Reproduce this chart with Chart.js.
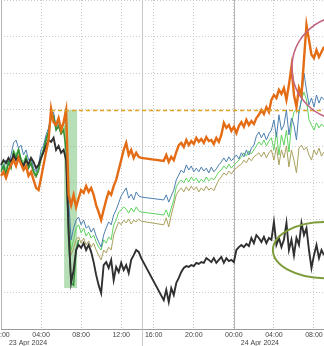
<!DOCTYPE html>
<html>
<head>
<meta charset="utf-8">
<script src="https://cdn.jsdelivr.net/npm/chart.js@4"></script>
<style>
  html, body { margin: 0; padding: 0; background: #fff; }
  #wrap { width: 324px; height: 346px; }
</style>
</head>
<body>
<div id="wrap"><canvas id="chart" width="324" height="346"></canvas></div>
<script>
// 15-minute bars, 23 Apr 00:00 -> 24 Apr 09:00 (14:00-15:00 session break removed)
const times = [
  "00:00","00:15","00:30","00:45","01:00","01:15","01:30","01:45","02:00","02:15","02:30","02:45",
  "03:00","03:15","03:30","03:45","04:00","04:15","04:30","04:45","05:00","05:15","05:30","05:45",
  "06:00","06:15","06:30","06:45","07:00","07:15","07:30","07:45","08:00","08:15","08:30","08:45",
  "09:00","09:15","09:30","09:45","10:00","10:15","10:30","10:45","11:00","11:15","11:30","11:45",
  "12:00","12:15","12:30","12:45","13:00","13:15","13:30","13:45","14:00",
  "15:00","15:15","15:30","15:45","16:00","16:15","16:30","16:45","17:00","17:15","17:30","17:45",
  "18:00","18:15","18:30","18:45","19:00","19:15","19:30","19:45","20:00","20:15","20:30","20:45",
  "21:00","21:15","21:30","21:45","22:00","22:15","22:30","22:45","23:00","23:15","23:30","23:45",
  "00:00","00:15","00:30","00:45","01:00","01:15","01:30","01:45","02:00","02:15","02:30","02:45",
  "03:00","03:15","03:30","03:45","04:00","04:15","04:30","04:45","05:00","05:15","05:30","05:45",
  "06:00","06:15","06:30","06:45","07:00","07:15","07:30","07:45","08:00","08:15","08:30","08:45",
  "09:00"
];
const tickTimes = ["00:00", "04:00", "08:00", "12:00", "16:00", "20:00"];
const dateLabels = ["23 Apr 2024", "24 Apr 2024"];
const datePos = [10.8, 103.4];
const dayStarts = [0, 93];
const sessionBreak = 56.5;

const orange = [
  41.9, 43.0, 41.3, 43.5, 44.9, 46.2, 44.6, 46.8, 45.1, 43.5,
  44.6, 41.9, 43.0, 40.8, 38.6, 38.0, 41.3, 44.9, 48.4, 51.7,
  60.2, 56.5, 55.8, 57.7, 54.4, 56.6, 59.9, 36.7, 33.9, 36.7,
  33.4, 35.8, 38.0, 37.2, 39.1, 37.5, 38.6, 36.7, 33.9, 32.0,
  29.8, 32.6, 35.3, 37.5, 36.7, 39.1, 40.8, 43.5, 46.2, 49.0,
  50.9, 47.6, 49.0, 46.8, 48.2, 47.1, 46.8,
  null, null, null, null, null, null, null, null,
  46.0, 47.6, 45.7, 47.1, 46.2,
  48.4, 50.3, 50.9, 49.8, 51.7, 50.3, 51.4, 50.6, 52.3, 51.2,
  52.0, 50.9, 52.5, 51.4, 51.7, 50.6, 52.3, 51.2, 53.1, 56.4,
  55.0, 55.8, 54.2, 55.3, 53.6, 55.5, 56.6, 55.3, 57.2, 55.8,
  56.9, 56.1, 57.7, 58.6, 59.9, 58.8, 60.7, 59.4, 62.7, 64.0,
  63.2, 65.4, 64.3, 65.9, 62.7, 66.8, 71.7, 64.0, 60.7, 65.9,
  64.0, 73.6, 83.2, 79.1, 75.0, 74.1, 76.3, 74.4, 75.8, 77.2
];
const black = [
  44.9, 46.2, 45.4, 46.8, 45.7, 47.6, 46.2, 47.1, 45.7, 44.6,
  46.2, 45.1, 46.8, 45.7, 44.0, 44.9, 46.8, 48.4, 50.1, 51.7,
  51.2, 52.3, 49.0, 50.1, 48.2, 49.0, 46.2, 27.1, 12.6, 16.1,
  21.6, 23.0, 22.2, 23.5, 21.6, 23.0, 21.1, 18.3, 14.8, 12.0,
  9.8, 17.5, 18.3, 16.7, 18.9, 13.4, 17.0, 15.6, 18.1, 16.1,
  17.5, 15.3, 18.9, 20.2, 21.6, 21.1, 19.4,
  null, null, null, null, null, null, null, null,
  7.9, 10.7, 7.4, 11.2, 9.3,
  12.6, 14.0, 15.6, 16.7, 17.2, 17.0, 17.5, 17.2, 18.1, 17.8,
  18.3, 18.1, 19.4, 18.9, 18.3, 19.4, 18.1, 18.9, 19.7, 18.1,
  19.4, 18.6, 18.9, 18.3, 21.6, 22.4, 23.0, 22.4, 23.3, 22.7,
  24.9, 23.5, 25.7, 24.9, 23.8, 25.2, 23.5, 24.9, 24.4, 29.3,
  23.0, 24.9, 22.4, 24.4, 29.0, 21.6, 24.4, 20.2, 24.9, 23.0,
  29.0, 25.7, 27.6, 21.6, 16.7, 20.2, 23.0, 19.4, 21.6, 20.2
];
const blue = [
  44.9, 43.5, 46.2, 44.6, 47.6, 50.9, 51.7, 49.5, 50.3, 47.6,
  49.0, 46.2, 46.8, 44.0, 43.0, 44.9, 49.0, 50.3, 53.1, 55.0,
  58.6, 59.4, 55.0, 56.6, 54.4, 56.1, 57.7, 35.3, 24.4, 27.6,
  29.8, 30.6, 28.5, 29.8, 27.6, 28.2, 26.5, 27.6, 25.4, 23.8,
  22.4, 25.7, 27.6, 29.3, 28.5, 31.2, 32.6, 34.5, 36.4, 37.5,
  38.6, 35.8, 36.9, 35.3, 37.5, 36.4, 36.1,
  null, null, null, null, null, null, null, null,
  35.3, 36.7, 34.7, 36.4, 38.0,
  40.8, 42.1, 43.5, 42.7, 44.9, 43.5, 44.6, 43.0, 44.0, 43.0,
  44.3, 43.2, 44.0, 42.7, 44.3, 43.0, 43.8, 44.9, 45.7, 46.8,
  45.7, 47.1, 46.0, 46.8, 47.6, 46.5, 48.2, 47.1, 49.0, 47.6,
  49.5, 50.3, 52.8, 53.9, 52.3, 53.6, 51.7, 53.4, 54.4, 57.2,
  52.5, 58.6, 54.4, 55.8, 59.9, 53.1, 57.7, 55.8, 51.7, 59.4,
  62.7, 70.0, 65.4, 61.3, 63.2, 60.7, 64.0, 61.8, 63.5, 62.7
];
const green = [
  44.0, 45.7, 43.5, 46.8, 44.9, 49.0, 47.6, 49.5, 46.8, 45.7,
  47.6, 44.9, 46.2, 43.5, 42.4, 44.0, 47.6, 49.5, 52.3, 54.4,
  58.3, 58.6, 55.3, 55.8, 53.6, 55.0, 55.8, 31.2, 21.6, 24.4,
  27.6, 28.5, 26.3, 27.6, 25.4, 26.5, 24.9, 25.7, 23.8, 22.4,
  21.6, 24.4, 23.5, 25.2, 24.4, 28.5, 29.8, 32.0, 32.6, 33.4,
  32.8, 31.7, 33.1, 32.0, 33.4, 32.3, 32.0,
  null, null, null, null, null, null, null, null,
  31.2, 32.6, 30.6, 33.1, 35.3,
  38.9, 40.0, 40.8, 40.0, 41.3, 40.2, 41.6, 40.5, 41.3, 40.0,
  41.0, 40.2, 41.6, 40.5, 41.3, 40.8, 41.9, 43.0, 43.5, 44.6,
  43.8, 45.1, 44.0, 44.9, 45.4, 46.2, 47.1, 48.2, 47.3, 48.7,
  47.9, 49.0, 50.1, 51.2, 50.3, 51.7, 50.1, 51.4, 52.3, 49.0,
  53.9, 47.6, 53.1, 50.3, 54.4, 48.4, 55.8, 59.4, 59.9, 59.1,
  62.7, 64.8, 62.7, 57.2, 55.8, 54.4, 56.4, 55.0, 56.1, 55.3
];
const olive = [
  43.5, 44.6, 42.4, 45.4, 44.0, 47.6, 46.2, 48.4, 45.7, 44.6,
  46.2, 44.0, 44.9, 42.4, 41.3, 43.0, 46.2, 48.4, 51.2, 53.6,
  57.7, 58.0, 54.4, 55.3, 53.1, 54.4, 55.0, 29.8, 20.2, 22.2,
  24.4, 25.2, 23.5, 24.9, 23.0, 24.1, 22.4, 23.5, 21.6, 20.2,
  18.9, 21.6, 20.8, 22.4, 21.6, 25.7, 27.6, 29.3, 28.5, 29.8,
  29.0, 30.1, 28.7, 29.8, 29.3, 30.1, 29.5,
  null, null, null, null, null, null, null, null,
  28.5, 30.4, 27.9, 31.2, 33.9,
  36.7, 37.8, 38.6, 37.5, 38.9, 37.8, 39.1, 38.0, 38.9, 37.5,
  38.6, 37.8, 39.1, 38.0, 38.6, 37.8, 39.4, 40.8, 41.6, 42.7,
  42.1, 43.2, 42.4, 43.5, 44.0, 44.6, 45.1, 46.2, 45.4, 46.8,
  46.0, 47.1, 47.6, 48.2, 47.1, 48.4, 46.8, 48.2, 49.0, 46.2,
  49.8, 44.9, 49.0, 46.8, 50.1, 44.3, 49.0, 46.2, 42.7, 49.5,
  50.3, 49.0, 49.8, 47.6, 46.2, 49.0, 47.6, 49.5, 47.3, 48.4
];
const darkGreen = [
  43.0, 44.6, 42.4, 45.7, 44.0, 48.4, 46.8, 49.0, 46.2, 44.9,
  46.8, 44.0, 45.4, 43.0, 41.9, 43.5, 46.8, 49.0, 51.7, 53.9,
  57.7, 58.3, 54.4, 55.5, 53.4, 54.4, 49.0, 24.4, 12.6, 12.0,
  21.6, 24.4
];

// annotations
const refLevel = 60;
const refFrom = 20;
const shade = { from: 25.2, to: 30.4, top: 59.9, bottom: 11.2 };
const circles = [
  { x: 137, y: 71.4, rx: 20.8, ry: 14.2, color: "#c2647e", width: 1.6 },
  { x: 129.4, y: 21.6, rx: 20.8, ry: 7.7, color: "#7f9c3c", width: 2 }
];

const labelFont = '7px "Liberation Sans Narrow", "Liberation Sans", sans-serif';

const overlay = {
  id: "overlay",
  beforeDatasetsDraw(chart) {
    const { ctx, chartArea: a, scales: { x, y } } = chart;
    ctx.save();
    ctx.lineWidth = 1;
    ctx.strokeStyle = "#b4b4b4";
    dayStarts.forEach((d) => {
      const px = Math.round(x.getPixelForValue(d)) + 0.5;
      ctx.beginPath();
      ctx.moveTo(px, a.top);
      ctx.lineTo(px, a.bottom);
      ctx.stroke();
    });
    const sb = Math.round(x.getPixelForValue(sessionBreak)) + 0.5;
    ctx.strokeStyle = "#c8c8c8";
    ctx.beginPath();
    ctx.moveTo(sb, a.top);
    ctx.lineTo(sb, chart.height);
    ctx.stroke();

    const x0 = x.getPixelForValue(shade.from);
    const x1 = x.getPixelForValue(shade.to);
    const y0 = y.getPixelForValue(shade.top);
    const y1 = y.getPixelForValue(shade.bottom);
    ctx.fillStyle = "rgba(112, 192, 112, 0.5)";
    ctx.fillRect(x0, y0, x1 - x0, y1 - y0);
    ctx.restore();
  },
  afterDatasetsDraw(chart) {
    const { ctx, chartArea: a, scales: { x, y } } = chart;
    ctx.save();
    const ry0 = Math.round(y.getPixelForValue(refLevel)) + 0.5;
    ctx.strokeStyle = "#e0a526";
    ctx.lineWidth = 1.5;
    ctx.setLineDash([4, 3]);
    ctx.beginPath();
    ctx.moveTo(x.getPixelForValue(refFrom), ry0);
    ctx.lineTo(a.right, ry0);
    ctx.stroke();
    ctx.setLineDash([]);

    circles.forEach((c) => {
      const cx = x.getPixelForValue(c.x);
      const cy = y.getPixelForValue(c.y);
      const rx = Math.abs(x.getPixelForValue(c.x + c.rx) - cx);
      const ry = Math.abs(y.getPixelForValue(c.y + c.ry) - cy);
      ctx.strokeStyle = c.color;
      ctx.lineWidth = c.width;
      ctx.beginPath();
      ctx.ellipse(cx, cy, rx, ry, 0, 0, Math.PI * 2);
      ctx.stroke();
    });
    ctx.restore();
  },
  afterDraw(chart) {
    const { ctx, scales: { x } } = chart;
    ctx.save();
    ctx.font = labelFont;
    ctx.fillStyle = "#444";
    ctx.textAlign = "center";
    ctx.textBaseline = "alphabetic";
    dateLabels.forEach((t, i) => {
      ctx.fillText(t, x.getPixelForValue(datePos[i]), 345);
    });
    ctx.restore();
  }
};

function line(data, color, width) {
  return {
    data: data,
    borderColor: color,
    borderWidth: width,
    pointRadius: 0,
    tension: 0,
    fill: false,
    spanGaps: true
  };
}

new Chart(document.getElementById("chart"), {
  type: "line",
  data: {
    labels: times,
    datasets: [
      line(orange, "#e46c14", 2.4),
      line(black, "#303030", 1.9),
      line(darkGreen, "#2f8f32", 1.5),
      line(blue, "#4d7fb0", 1),
      line(green, "#5fd25f", 1),
      line(olive, "#a9a15e", 1)
    ]
  },
  options: {
    responsive: false,
    animation: false,
    events: [],
    layout: { padding: { left: 1, right: 0, top: 0, bottom: 0 } },
    plugins: {
      legend: { display: false },
      tooltip: { enabled: false }
    },
    scales: {
      x: {
        type: "category",
        offset: false,
        afterFit: (scale) => {
          scale.height = 17;
          scale.paddingLeft = 0;
          scale.paddingRight = 0;
        },
        ticks: {
          autoSkip: false,
          maxRotation: 0,
          padding: 2,
          color: "#444",
          font: { family: '"Liberation Sans Narrow", "Liberation Sans", sans-serif', size: 7 },
          callback: function (value) {
            const lab = this.getLabelForValue(value);
            return tickTimes.includes(lab) ? lab : null;
          }
        },
        grid: {
          drawTicks: false,
          color: (ctx) => (dayStarts.includes(ctx.index) ? "rgba(0,0,0,0)" : "#c9c9c9"),
          lineWidth: 1
        },
        border: { display: true, color: "#9a9a9a", width: 1, dash: [1, 2] }
      },
      y: {
        min: 0,
        max: 90,
        afterFit: (scale) => { scale.width = 0; },
        ticks: { display: false, stepSize: 10 },
        grid: { drawTicks: false, color: "#cacaca", lineWidth: 1 },
        border: { display: false, dash: [1, 2] }
      }
    }
  },
  plugins: [overlay]
});
</script>
</body>
</html>
